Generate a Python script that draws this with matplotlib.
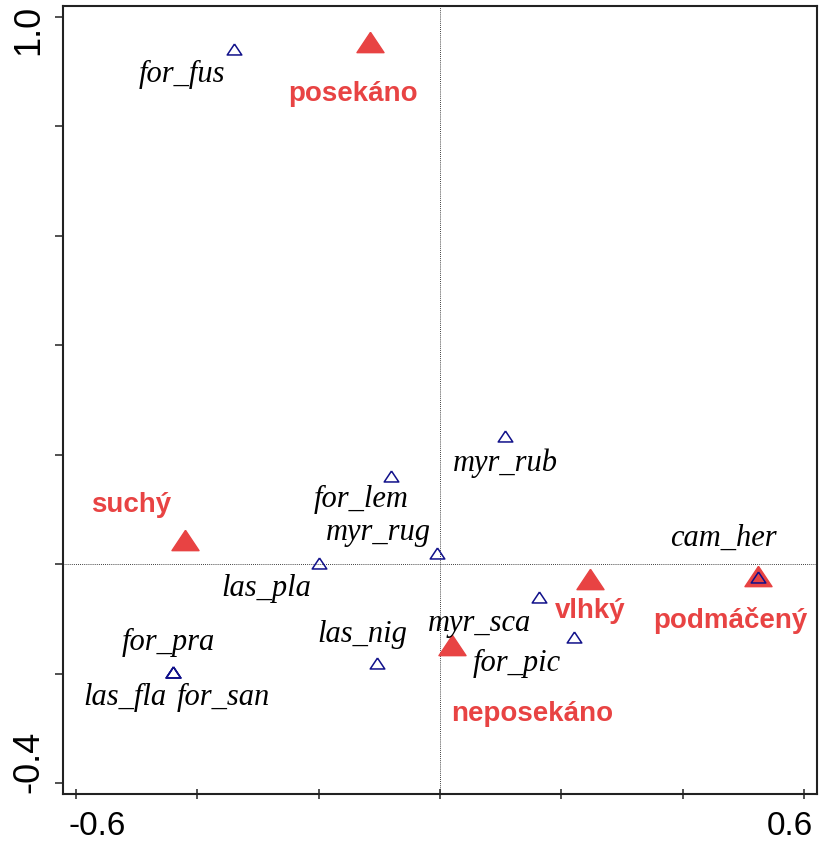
import matplotlib.pyplot as plt
import matplotlib.transforms as mtransforms
from matplotlib.path import Path

# species scores
species = ['for_fus', 'myr_rub', 'for_lem', 'myr_rug', 'las_pla', 'las_nig',
           'for_pra', 'las_fla', 'for_san', 'myr_sca', 'for_pic', 'cam_her']
sp_x = [-0.340, 0.107, -0.081, -0.005, -0.199, -0.104,
        -0.440, -0.440, -0.440, 0.163, 0.221, 0.523]
sp_y = [0.941, 0.234, 0.161, 0.020, 0.002, -0.181,
        -0.197, -0.197, -0.197, -0.060, -0.133, -0.024]

# environmental (nominal) variables
env = ['posekáno', 'suchý', 'neposekáno', 'vlhký', 'podmáčený']
env_x = [-0.115, -0.420, 0.020, 0.247, 0.523]
env_y = [0.954, 0.044, -0.148, -0.027, -0.022]

xticks = [-0.6, -0.4, -0.2, 0.0, 0.2, 0.4, 0.6]
xticklabels = ['-0.6', '', '', '', '', '', '0.6']
yticks = [-0.4, -0.2, 0.0, 0.2, 0.4, 0.6, 0.8, 1.0]
yticklabels = ['-0.4', '', '', '', '', '', '', '1.0']

# label offsets in pixels (layout only)
sp_off = [(-52, -25), (0, -27), (-30, -23), (-59, 21), (-53, -25), (-15, 29),
          (-5, 30), (-48, -25), (50, -25), (-59, -26), (-57, -26), (-34, 39)]
env_off = [(-17, -52), (-54, 35), (80, -69), (0, -32), (-27, -44)]

red = '#E84343'
navy = '#10108A'
tri = Path([(0, 0.75), (-1, -0.75), (1, -0.75), (0, 0.75)])

fig = plt.figure(figsize=(8.19, 8.43), dpi=100)
ax = fig.add_axes([0.077, 0.058, 0.9206, 0.935])

ax.axhline(0, color='black', lw=0.6, ls=(0, (1, 1.5)), zorder=1)
ax.axvline(0, color='black', lw=0.6, ls=(0, (1, 1.5)), zorder=1)

ax.plot(env_x, env_y, ls='none', marker=tri, ms=19.5, color=red, zorder=2)
ax.plot(sp_x, sp_y, ls='none', marker=tri, ms=10.5, mfc='none', mec=navy,
        mew=1.1, zorder=3)

for name, x, y, off in zip(species, sp_x, sp_y, sp_off):
    ax.annotate(name, (x, y), xytext=off, textcoords='offset pixels',
                ha='center', va='center', fontsize=22, style='italic',
                family='Liberation Serif', color='black', zorder=4)

for name, x, y, off in zip(env, env_x, env_y, env_off):
    ax.annotate(name, (x, y), xytext=off, textcoords='offset pixels',
                ha='center', va='center', fontsize=20, weight='bold',
                family='Liberation Sans', color=red, zorder=4)

ax.set_xlim(-0.621, 0.621)
ax.set_ylim(-0.42, 1.02)
ax.set_xticks(xticks)
ax.set_xticklabels(xticklabels, family='Liberation Sans', fontsize=24,
                   va='baseline')
ax.set_yticks(yticks)
ax.set_yticklabels(yticklabels, family='Liberation Sans', fontsize=26,
                   rotation=90, va='center')
ax.tick_params(axis='x', direction='inout', length=7, width=1.1, pad=0,
               color='#222222')
ax.tick_params(axis='y', direction='out', length=6, width=1.1, pad=6,
               color='#222222')

# shift end labels inward like the original; x labels pushed below the axis
xl = ax.get_xticklabels()
xl[0].set_transform(xl[0].get_transform() +
                    mtransforms.ScaledTranslation(0.21, -0.365, fig.dpi_scale_trans))
xl[-1].set_transform(xl[-1].get_transform() +
                     mtransforms.ScaledTranslation(-0.14, -0.365, fig.dpi_scale_trans))
yl = ax.get_yticklabels()
yl[0].set_transform(yl[0].get_transform() +
                    mtransforms.ScaledTranslation(0, 0.21, fig.dpi_scale_trans))
yl[-1].set_transform(yl[-1].get_transform() +
                     mtransforms.ScaledTranslation(0, -0.13, fig.dpi_scale_trans))

for s in ax.spines.values():
    s.set_linewidth(1.5)
    s.set_color('#222222')

fig.savefig('out.png', dpi=100)
